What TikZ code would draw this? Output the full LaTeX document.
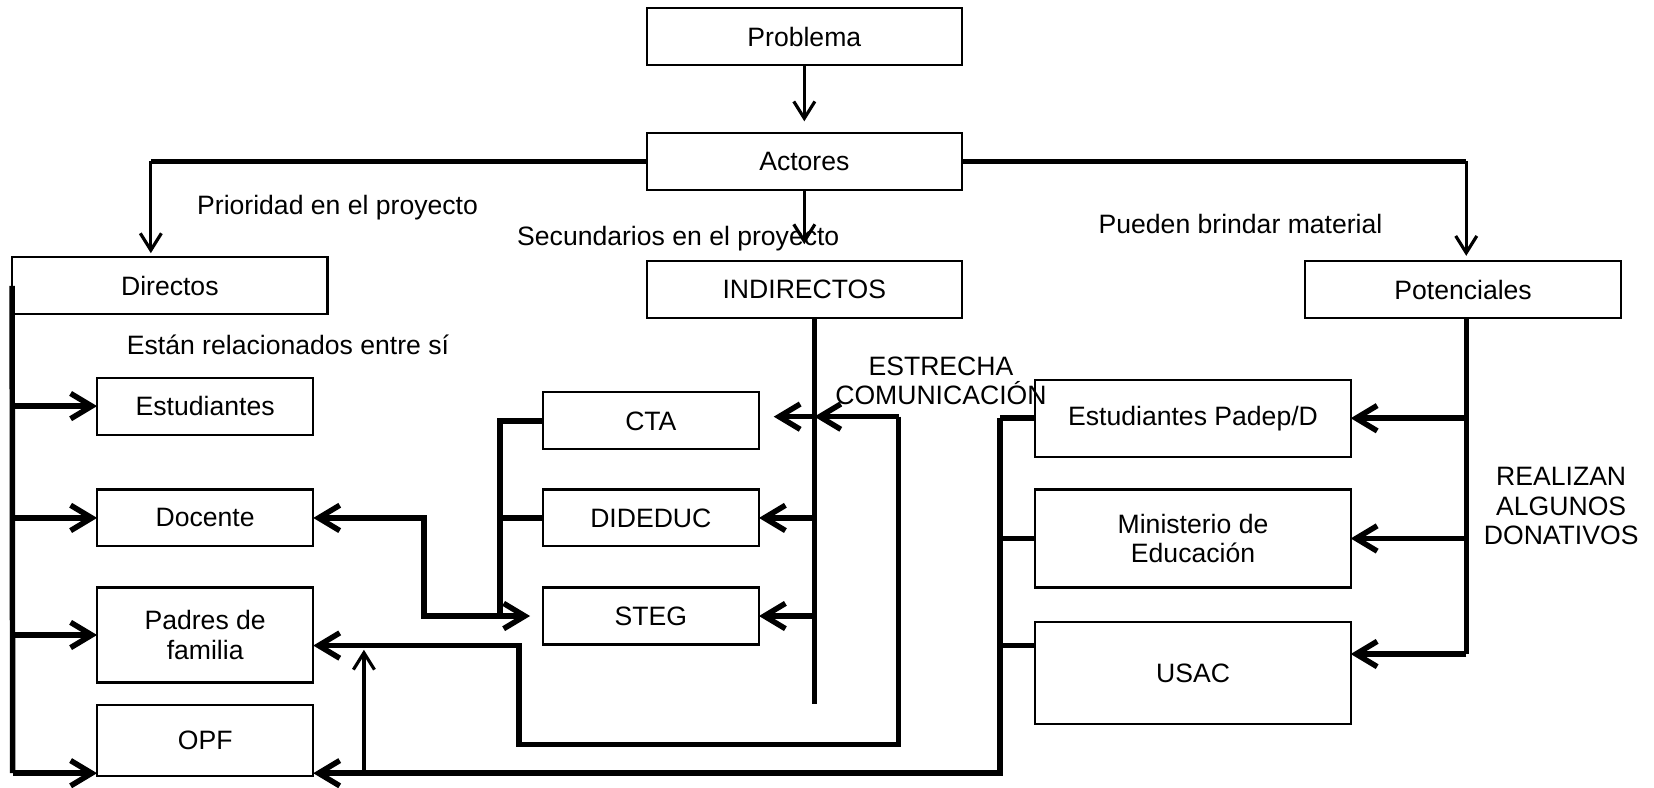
\documentclass[tikz,border=0pt]{standalone}
\usepackage{fontspec}
\setmainfont{Liberation Sans}
\usepackage{tikz}
\usetikzlibrary{arrows.meta}
\tikzstyle{box} = [draw, line width=1pt, inner sep=0pt, outer sep=0pt, align=center]
\tikzstyle{bigbox} = [box, minimum width=149.5pt, minimum height=27pt]
\tikzstyle{smallbox} = [box, minimum width=102.5pt, minimum height=27pt]
\tikzstyle{thickline} = [line width=2.6pt]
\tikzstyle{thickarrow} = [line width=2.6pt, ->]
\tikzstyle{thinarrow} = [line width=1.5pt, -{Straight Barb[length=8pt,width=10pt]}]

\begin{document}
\begin{tikzpicture}[x=0.5pt, y=-0.5pt, >={Straight Barb[length=10pt,width=12pt]},
    font=\fontsize{12.6}{14}\selectfont]
    \useasboundingbox (0,0) rectangle (1568,747);
    \node[bigbox] (prob) at (762.5,35) {Problema};
    \node[bigbox] (act) at (762.5,153) {Actores};
    \node[bigbox] (dir) at (161,271) {Directos};
    \node[bigbox] (ind) at (762.5,274.5) {INDIRECTOS};
    \node[bigbox] (pot) at (1387,274.5) {Potenciales};
    \node[smallbox] (est) at (194.5,385) {Estudiantes};
    \node[smallbox] (doc) at (194.5,491) {Docente};
    \node[smallbox, minimum height=45pt] (pad) at (194.5,602) {Padres de\\familia};
    \node[smallbox, minimum height=34pt] (opf) at (194.5,702) {OPF};
    \node[smallbox] (cta) at (617,399) {CTA};
    \node[smallbox] (did) at (617,491) {DIDEDUC};
    \node[smallbox] (steg) at (617,584) {STEG};
    \node[bigbox, minimum height=36.5pt] (epd) at (1131,396.5) {Estudiantes Padep/D};
    \node[bigbox, minimum height=46.5pt] (min) at (1131,510.5) {Ministerio de\\Educación};
    \node[bigbox, minimum height=48pt] (usac) at (1131,638) {USAC};
    % textos
    \node (prio) at (320,197) {Prioridad en el proyecto};
    \node (sec) at (643,226) {Secundarios en el proyecto};
    \node (pue) at (1176,212) {Pueden brindar material};
    \node (rel) at (273,327) {Están relacionados entre sí};
    \node[align=center] (estr) at (892,361) {ESTRECHA\\COMUNICACIÓN};
    \node[align=center] (rea) at (1480,480) {REALIZAN\\ALGUNOS\\DONATIVOS};
    % puntos de paso
    \coordinate (cdir) at (143,153);
    \coordinate (cpot) at (1390,153);
    \coordinate (dbot) at (12,733);
    \coordinate (itop) at (772,301);
    \coordinate (ibot) at (772,667);
    \coordinate (b1) at (474,399);
    \coordinate (d1) at (402,540);
    \coordinate (l1) at (852,395);
    \coordinate (l2) at (852,706);
    \coordinate (l3) at (492,706);
    \coordinate (l4) at (492,612);
    \coordinate (r1) at (948,396.5);
    \coordinate (r2) at (948,733);
    \coordinate (r3) at (948,612);
    \coordinate (pbot) at (1390,620);
    \coordinate (u1) at (345,733);
    % arriba
    \draw [thinarrow, shorten >=5.5pt] (prob) -- (act);
    \draw [thinarrow, shorten >=8pt] (act) -- (ind);
    \draw [thickline] (act.west) -- (cdir);
    \draw [thinarrow, shorten >=2pt] (cdir) -- (cdir |- dir.north);
    \draw [thickline] (act.east) -- (cpot);
    \draw [thinarrow, shorten >=2.5pt] (cpot) -- (cpot |- pot.north);
    % directos
    \draw [thickline] (dir.west) -- (dbot);
    \draw [thickarrow] (dir.west |- est.west) -- (est.west);
    \draw [thickarrow] (dir.west |- doc.west) -- (doc.west);
    \draw [thickarrow] (dir.west |- pad.west) -- (pad.west);
    \draw [thickarrow] (dbot) -- (dbot -| opf.west);
    % indirectos
    \draw [thickline] (itop) -- (ibot);
    \draw [thickarrow, shorten >=7pt] (itop |- l1) -- (l1 -| cta.east);
    \draw [thickarrow] (itop |- did.east) -- (did.east);
    \draw [thickarrow] (itop |- steg.east) -- (steg.east);
    \draw [thickline] (cta.west) -- (b1) -- (b1 |- steg.west);
    \draw [thickline] (did.west) -- (b1 |- did.west);
    \draw [thickarrow, <->, shorten >=6pt] (doc.east) -| (d1) |- (steg.west);
    \draw [thickarrow] (l1) -- (itop |- l1);
    \draw [thickarrow] (l1) -- (l2) -- (l3) -- (l4) -- (l4 -| pad.east);
    % potenciales
    \draw [thickline] (cpot |- pot.south) -- (pbot);
    \draw [thickarrow] (pbot |- epd.east) -- (epd.east);
    \draw [thickarrow] (pbot |- min.east) -- (min.east);
    \draw [thickarrow] (pbot) -- (pbot -| usac.east);
    \draw [thickline] (r1) -- (epd.west);
    \draw [thickline] (r1 |- min.west) -- (min.west);
    \draw [thickline] (r3) -- (r3 -| usac.west);
    \draw [thickarrow] (r1) -- (r2) -- (r2 -| opf.east);
    \draw [thinarrow, shorten >=2pt] (u1) -- (u1 |- l4);
  \end{tikzpicture}
\end{document}
